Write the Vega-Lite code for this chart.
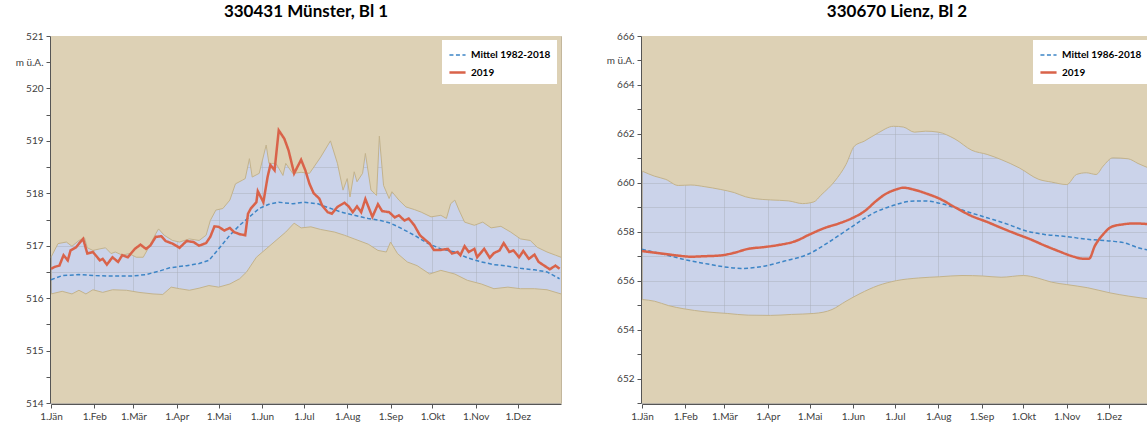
{
  "$schema": "https://vega.github.io/schema/vega-lite/v6.json",
  "padding": {"left": 4, "top": 2, "right": 0, "bottom": 0},
  "spacing": 29,
  "datasets": {
    "m_max": [
      {"tag":0,"wert":516.78},{"tag":5,"wert":517.04},{"tag":11,"wert":517.07},{"tag":15,"wert":516.99},{"tag":20,"wert":517.1},{"tag":24,"wert":517.15},{"tag":26,"wert":516.96},{"tag":30,"wert":516.91},{"tag":35,"wert":516.94},{"tag":39,"wert":516.96},{"tag":43,"wert":516.85},{"tag":46,"wert":516.88},{"tag":51,"wert":516.82},{"tag":56,"wert":516.85},{"tag":61,"wert":516.78},{"tag":66,"wert":516.78},{"tag":70,"wert":516.97},{"tag":75,"wert":517.23},{"tag":77,"wert":517.32},{"tag":81,"wert":517.2},{"tag":87,"wert":517.1},{"tag":92,"wert":517.07},{"tag":99,"wert":517.13},{"tag":106,"wert":517.1},{"tag":111,"wert":517.2},{"tag":114,"wert":517.48},{"tag":118,"wert":517.68},{"tag":123,"wert":517.71},{"tag":128,"wert":517.87},{"tag":132,"wert":518.18},{"tag":137,"wert":518.25},{"tag":139,"wert":518.28},{"tag":142,"wert":518.66},{"tag":144,"wert":518.31},{"tag":149,"wert":518.38},{"tag":154,"wert":518.92},{"tag":156,"wert":518.57},{"tag":161,"wert":518.57},{"tag":166,"wert":518.34},{"tag":168,"wert":518.57},{"tag":173,"wert":518.38},{"tag":179,"wert":518.4},{"tag":185,"wert":518.38},{"tag":193,"wert":518.69},{"tag":200,"wert":519.0},{"tag":205,"wert":518.57},{"tag":209,"wert":518.06},{"tag":212,"wert":518.28},{"tag":214,"wert":517.93},{"tag":217,"wert":518.41},{"tag":219,"wert":518.22},{"tag":223,"wert":518.38},{"tag":225,"wert":518.76},{"tag":229,"wert":518.06},{"tag":233,"wert":517.96},{"tag":235,"wert":519.09},{"tag":238,"wert":518.15},{"tag":242,"wert":517.9},{"tag":244,"wert":518.03},{"tag":249,"wert":517.87},{"tag":254,"wert":517.74},{"tag":260,"wert":517.69},{"tag":265,"wert":517.64},{"tag":272,"wert":517.55},{"tag":279,"wert":517.58},{"tag":283,"wert":517.52},{"tag":286,"wert":517.8},{"tag":289,"wert":517.87},{"tag":292,"wert":517.68},{"tag":296,"wert":517.45},{"tag":303,"wert":517.39},{"tag":309,"wert":517.45},{"tag":315,"wert":517.34},{"tag":322,"wert":517.37},{"tag":329,"wert":517.26},{"tag":336,"wert":517.13},{"tag":343,"wert":517.1},{"tag":348,"wert":516.97},{"tag":355,"wert":516.88},{"tag":361,"wert":516.82},{"tag":365,"wert":516.78}
    ],
    "m_min": [
      {"tag":0,"wert":516.08},{"tag":8,"wert":516.13},{"tag":15,"wert":516.08},{"tag":20,"wert":516.15},{"tag":25,"wert":516.08},{"tag":30,"wert":516.16},{"tag":37,"wert":516.11},{"tag":44,"wert":516.16},{"tag":54,"wert":516.15},{"tag":63,"wert":516.11},{"tag":73,"wert":516.08},{"tag":80,"wert":516.07},{"tag":86,"wert":516.21},{"tag":92,"wert":516.18},{"tag":99,"wert":516.15},{"tag":106,"wert":516.19},{"tag":113,"wert":516.24},{"tag":120,"wert":516.21},{"tag":128,"wert":516.27},{"tag":135,"wert":516.37},{"tag":140,"wert":516.5},{"tag":147,"wert":516.78},{"tag":154,"wert":516.94},{"tag":161,"wert":517.1},{"tag":168,"wert":517.26},{"tag":174,"wert":517.43},{"tag":179,"wert":517.34},{"tag":186,"wert":517.36},{"tag":193,"wert":517.31},{"tag":203,"wert":517.26},{"tag":210,"wert":517.2},{"tag":217,"wert":517.13},{"tag":227,"wert":517.03},{"tag":234,"wert":516.91},{"tag":240,"wert":516.88},{"tag":243,"wert":517.07},{"tag":248,"wert":516.85},{"tag":255,"wert":516.69},{"tag":262,"wert":516.62},{"tag":271,"wert":516.46},{"tag":279,"wert":516.53},{"tag":289,"wert":516.46},{"tag":298,"wert":516.34},{"tag":308,"wert":516.27},{"tag":317,"wert":516.18},{"tag":327,"wert":516.21},{"tag":336,"wert":516.18},{"tag":346,"wert":516.18},{"tag":355,"wert":516.16},{"tag":365,"wert":516.08}
    ],
    "m_lines": [
      {"serie":"Mittel 1982-2018","tag":0,"wert":516.35},{"serie":"Mittel 1982-2018","tag":8,"wert":516.43},{"serie":"Mittel 1982-2018","tag":20,"wert":516.45},{"serie":"Mittel 1982-2018","tag":32,"wert":516.43},{"serie":"Mittel 1982-2018","tag":44,"wert":516.42},{"serie":"Mittel 1982-2018","tag":58,"wert":516.42},{"serie":"Mittel 1982-2018","tag":68,"wert":516.45},{"serie":"Mittel 1982-2018","tag":78,"wert":516.52},{"serie":"Mittel 1982-2018","tag":85,"wert":516.58},{"serie":"Mittel 1982-2018","tag":97,"wert":516.62},{"serie":"Mittel 1982-2018","tag":106,"wert":516.66},{"serie":"Mittel 1982-2018","tag":113,"wert":516.72},{"serie":"Mittel 1982-2018","tag":120,"wert":516.94},{"serie":"Mittel 1982-2018","tag":128,"wert":517.2},{"serie":"Mittel 1982-2018","tag":135,"wert":517.39},{"serie":"Mittel 1982-2018","tag":142,"wert":517.55},{"serie":"Mittel 1982-2018","tag":149,"wert":517.71},{"serie":"Mittel 1982-2018","tag":156,"wert":517.79},{"serie":"Mittel 1982-2018","tag":163,"wert":517.83},{"serie":"Mittel 1982-2018","tag":173,"wert":517.8},{"serie":"Mittel 1982-2018","tag":181,"wert":517.83},{"serie":"Mittel 1982-2018","tag":191,"wert":517.8},{"serie":"Mittel 1982-2018","tag":198,"wert":517.73},{"serie":"Mittel 1982-2018","tag":208,"wert":517.64},{"serie":"Mittel 1982-2018","tag":217,"wert":517.58},{"serie":"Mittel 1982-2018","tag":227,"wert":517.52},{"serie":"Mittel 1982-2018","tag":236,"wert":517.48},{"serie":"Mittel 1982-2018","tag":243,"wert":517.43},{"serie":"Mittel 1982-2018","tag":250,"wert":517.34},{"serie":"Mittel 1982-2018","tag":260,"wert":517.2},{"serie":"Mittel 1982-2018","tag":270,"wert":517.04},{"serie":"Mittel 1982-2018","tag":279,"wert":516.94},{"serie":"Mittel 1982-2018","tag":289,"wert":516.88},{"serie":"Mittel 1982-2018","tag":298,"wert":516.77},{"serie":"Mittel 1982-2018","tag":308,"wert":516.69},{"serie":"Mittel 1982-2018","tag":317,"wert":516.64},{"serie":"Mittel 1982-2018","tag":327,"wert":516.61},{"serie":"Mittel 1982-2018","tag":336,"wert":516.57},{"serie":"Mittel 1982-2018","tag":346,"wert":516.54},{"serie":"Mittel 1982-2018","tag":355,"wert":516.5},{"serie":"Mittel 1982-2018","tag":364,"wert":516.37},
      {"serie":"2019","tag":0,"wert":516.56},{"serie":"2019","tag":3,"wert":516.6},{"serie":"2019","tag":6,"wert":516.62},{"serie":"2019","tag":9,"wert":516.82},{"serie":"2019","tag":12,"wert":516.72},{"serie":"2019","tag":14,"wert":516.91},{"serie":"2019","tag":18,"wert":516.97},{"serie":"2019","tag":20,"wert":517.04},{"serie":"2019","tag":23,"wert":517.13},{"serie":"2019","tag":26,"wert":516.85},{"serie":"2019","tag":30,"wert":516.88},{"serie":"2019","tag":35,"wert":516.72},{"serie":"2019","tag":37,"wert":516.75},{"serie":"2019","tag":40,"wert":516.64},{"serie":"2019","tag":44,"wert":516.78},{"serie":"2019","tag":48,"wert":516.69},{"serie":"2019","tag":51,"wert":516.82},{"serie":"2019","tag":55,"wert":516.78},{"serie":"2019","tag":60,"wert":516.94},{"serie":"2019","tag":64,"wert":517.02},{"serie":"2019","tag":68,"wert":516.94},{"serie":"2019","tag":71,"wert":517.0},{"serie":"2019","tag":75,"wert":517.17},{"serie":"2019","tag":79,"wert":517.18},{"serie":"2019","tag":82,"wert":517.09},{"serie":"2019","tag":87,"wert":517.04},{"serie":"2019","tag":92,"wert":516.96},{"serie":"2019","tag":97,"wert":517.09},{"serie":"2019","tag":102,"wert":517.07},{"serie":"2019","tag":106,"wert":517.0},{"serie":"2019","tag":111,"wert":517.05},{"serie":"2019","tag":114,"wert":517.17},{"serie":"2019","tag":117,"wert":517.37},{"serie":"2019","tag":120,"wert":517.36},{"serie":"2019","tag":124,"wert":517.29},{"serie":"2019","tag":128,"wert":517.34},{"serie":"2019","tag":131,"wert":517.26},{"serie":"2019","tag":135,"wert":517.22},{"serie":"2019","tag":139,"wert":517.2},{"serie":"2019","tag":141,"wert":517.61},{"serie":"2019","tag":143,"wert":517.71},{"serie":"2019","tag":147,"wert":517.83},{"serie":"2019","tag":148,"wert":518.04},{"serie":"2019","tag":152,"wert":517.83},{"serie":"2019","tag":155,"wert":518.31},{"serie":"2019","tag":157,"wert":518.54},{"serie":"2019","tag":160,"wert":518.44},{"serie":"2019","tag":163,"wert":519.2},{"serie":"2019","tag":167,"wert":519.04},{"serie":"2019","tag":170,"wert":518.82},{"serie":"2019","tag":174,"wert":518.38},{"serie":"2019","tag":179,"wert":518.64},{"serie":"2019","tag":182,"wert":518.44},{"serie":"2019","tag":185,"wert":518.18},{"serie":"2019","tag":188,"wert":518.0},{"serie":"2019","tag":192,"wert":517.9},{"serie":"2019","tag":194,"wert":517.77},{"serie":"2019","tag":198,"wert":517.64},{"serie":"2019","tag":201,"wert":517.61},{"serie":"2019","tag":205,"wert":517.74},{"serie":"2019","tag":210,"wert":517.82},{"serie":"2019","tag":213,"wert":517.75},{"serie":"2019","tag":216,"wert":517.64},{"serie":"2019","tag":219,"wert":517.75},{"serie":"2019","tag":222,"wert":517.64},{"serie":"2019","tag":225,"wert":517.89},{"serie":"2019","tag":230,"wert":517.55},{"serie":"2019","tag":234,"wert":517.79},{"serie":"2019","tag":237,"wert":517.66},{"serie":"2019","tag":242,"wert":517.64},{"serie":"2019","tag":246,"wert":517.54},{"serie":"2019","tag":249,"wert":517.58},{"serie":"2019","tag":253,"wert":517.48},{"serie":"2019","tag":256,"wert":517.52},{"serie":"2019","tag":260,"wert":517.39},{"serie":"2019","tag":264,"wert":517.2},{"serie":"2019","tag":267,"wert":517.13},{"serie":"2019","tag":271,"wert":517.04},{"serie":"2019","tag":274,"wert":516.92},{"serie":"2019","tag":279,"wert":516.92},{"serie":"2019","tag":284,"wert":516.94},{"serie":"2019","tag":287,"wert":516.85},{"serie":"2019","tag":291,"wert":516.88},{"serie":"2019","tag":293,"wert":516.82},{"serie":"2019","tag":296,"wert":516.99},{"serie":"2019","tag":299,"wert":516.88},{"serie":"2019","tag":303,"wert":516.94},{"serie":"2019","tag":305,"wert":516.78},{"serie":"2019","tag":310,"wert":516.94},{"serie":"2019","tag":314,"wert":516.77},{"serie":"2019","tag":317,"wert":516.86},{"serie":"2019","tag":321,"wert":516.91},{"serie":"2019","tag":324,"wert":517.05},{"serie":"2019","tag":328,"wert":516.88},{"serie":"2019","tag":331,"wert":516.91},{"serie":"2019","tag":335,"wert":516.78},{"serie":"2019","tag":338,"wert":516.9},{"serie":"2019","tag":342,"wert":516.75},{"serie":"2019","tag":346,"wert":516.83},{"serie":"2019","tag":349,"wert":516.69},{"serie":"2019","tag":353,"wert":516.62},{"serie":"2019","tag":357,"wert":516.55},{"serie":"2019","tag":361,"wert":516.62},{"serie":"2019","tag":364,"wert":516.56}
    ],
    "l_max": [
      {"tag":0,"wert":660.48},{"tag":9,"wert":660.27},{"tag":17,"wert":660.14},{"tag":26,"wert":659.89},{"tag":35,"wert":659.91},{"tag":45,"wert":659.84},{"tag":56,"wert":659.73},{"tag":66,"wert":659.6},{"tag":74,"wert":659.43},{"tag":81,"wert":659.35},{"tag":92,"wert":659.3},{"tag":105,"wert":659.26},{"tag":115,"wert":659.15},{"tag":123,"wert":659.22},{"tag":128,"wert":659.49},{"tag":138,"wert":660.07},{"tag":146,"wert":660.75},{"tag":152,"wert":661.5},{"tag":159,"wert":661.7},{"tag":169,"wert":662.04},{"tag":180,"wert":662.31},{"tag":187,"wert":662.28},{"tag":195,"wert":662.07},{"tag":203,"wert":662.11},{"tag":212,"wert":662.07},{"tag":224,"wert":661.79},{"tag":236,"wert":661.33},{"tag":247,"wert":661.16},{"tag":257,"wert":660.95},{"tag":270,"wert":660.61},{"tag":284,"wert":660.14},{"tag":293,"wert":660.03},{"tag":304,"wert":659.93},{"tag":311,"wert":660.34},{"tag":318,"wert":660.41},{"tag":325,"wert":660.34},{"tag":330,"wert":660.68},{"tag":337,"wert":661.02},{"tag":348,"wert":660.98},{"tag":355,"wert":660.79},{"tag":365,"wert":660.55}
    ],
    "l_min": [
      {"tag":0,"wert":655.23},{"tag":9,"wert":655.16},{"tag":19,"wert":654.98},{"tag":30,"wert":654.85},{"tag":45,"wert":654.73},{"tag":61,"wert":654.66},{"tag":76,"wert":654.59},{"tag":92,"wert":654.58},{"tag":107,"wert":654.62},{"tag":123,"wert":654.66},{"tag":136,"wert":654.82},{"tag":146,"wert":655.16},{"tag":156,"wert":655.47},{"tag":169,"wert":655.8},{"tag":182,"wert":656.0},{"tag":198,"wert":656.11},{"tag":213,"wert":656.16},{"tag":229,"wert":656.21},{"tag":244,"wert":656.19},{"tag":257,"wert":656.14},{"tag":273,"wert":656.21},{"tag":283,"wert":656.11},{"tag":293,"wert":655.94},{"tag":304,"wert":655.84},{"tag":319,"wert":655.71},{"tag":335,"wert":655.5},{"tag":348,"wert":655.37},{"tag":365,"wert":655.24}
    ],
    "l_lines": [
      {"serie":"Mittel 1986-2018","tag":0,"wert":657.28},{"serie":"Mittel 1986-2018","tag":14,"wert":657.1},{"serie":"Mittel 1986-2018","tag":30,"wert":656.87},{"serie":"Mittel 1986-2018","tag":45,"wert":656.7},{"serie":"Mittel 1986-2018","tag":61,"wert":656.55},{"serie":"Mittel 1986-2018","tag":71,"wert":656.5},{"serie":"Mittel 1986-2018","tag":87,"wert":656.59},{"serie":"Mittel 1986-2018","tag":102,"wert":656.8},{"serie":"Mittel 1986-2018","tag":120,"wert":657.11},{"serie":"Mittel 1986-2018","tag":133,"wert":657.55},{"serie":"Mittel 1986-2018","tag":149,"wert":658.16},{"serie":"Mittel 1986-2018","tag":164,"wert":658.71},{"serie":"Mittel 1986-2018","tag":180,"wert":659.08},{"serie":"Mittel 1986-2018","tag":195,"wert":659.26},{"serie":"Mittel 1986-2018","tag":203,"wert":659.26},{"serie":"Mittel 1986-2018","tag":216,"wert":659.12},{"serie":"Mittel 1986-2018","tag":231,"wert":658.85},{"serie":"Mittel 1986-2018","tag":247,"wert":658.57},{"serie":"Mittel 1986-2018","tag":262,"wert":658.3},{"serie":"Mittel 1986-2018","tag":275,"wert":658.03},{"serie":"Mittel 1986-2018","tag":288,"wert":657.89},{"serie":"Mittel 1986-2018","tag":304,"wert":657.8},{"serie":"Mittel 1986-2018","tag":319,"wert":657.69},{"serie":"Mittel 1986-2018","tag":335,"wert":657.62},{"serie":"Mittel 1986-2018","tag":345,"wert":657.55},{"serie":"Mittel 1986-2018","tag":355,"wert":657.35},{"serie":"Mittel 1986-2018","tag":364,"wert":657.23},
      {"serie":"2019","tag":0,"wert":657.21},{"serie":"2019","tag":14,"wert":657.11},{"serie":"2019","tag":25,"wert":657.03},{"serie":"2019","tag":35,"wert":656.98},{"serie":"2019","tag":45,"wert":657.0},{"serie":"2019","tag":56,"wert":657.03},{"serie":"2019","tag":66,"wert":657.14},{"serie":"2019","tag":76,"wert":657.3},{"serie":"2019","tag":87,"wert":657.37},{"serie":"2019","tag":97,"wert":657.45},{"serie":"2019","tag":110,"wert":657.62},{"serie":"2019","tag":120,"wert":657.89},{"serie":"2019","tag":131,"wert":658.16},{"serie":"2019","tag":141,"wert":658.34},{"serie":"2019","tag":151,"wert":658.57},{"serie":"2019","tag":160,"wert":658.87},{"serie":"2019","tag":167,"wert":659.23},{"serie":"2019","tag":174,"wert":659.53},{"serie":"2019","tag":182,"wert":659.73},{"serie":"2019","tag":187,"wert":659.8},{"serie":"2019","tag":194,"wert":659.73},{"serie":"2019","tag":203,"wert":659.57},{"serie":"2019","tag":213,"wert":659.35},{"serie":"2019","tag":224,"wert":659.0},{"serie":"2019","tag":236,"wert":658.64},{"serie":"2019","tag":247,"wert":658.4},{"serie":"2019","tag":257,"wert":658.16},{"serie":"2019","tag":267,"wert":657.93},{"serie":"2019","tag":278,"wert":657.69},{"serie":"2019","tag":288,"wert":657.44},{"serie":"2019","tag":298,"wert":657.21},{"serie":"2019","tag":309,"wert":656.98},{"serie":"2019","tag":315,"wert":656.9},{"serie":"2019","tag":320,"wert":656.9},{"serie":"2019","tag":324,"wert":657.41},{"serie":"2019","tag":330,"wert":657.89},{"serie":"2019","tag":336,"wert":658.2},{"serie":"2019","tag":344,"wert":658.3},{"serie":"2019","tag":353,"wert":658.34},{"serie":"2019","tag":364,"wert":658.3}
    ]
  },
  "hconcat": [
    {
      "width": 510,
      "height": 367,
      "title": {"text": "330431 Münster, Bl 1"},
      "encoding": {
        "x": {"field": "tag", "type": "quantitative", "scale": {"domain": [0, 365], "nice": false, "zero": false},
          "axis": {"title": null, "values": [0,31,59,90,120,151,181,212,243,273,304,334], "labelExpr": "['1.Jän','1.Feb','1.Mär','1.Apr','1.Mai','1.Jun','1.Jul','1.Aug','1.Sep','1.Okt','1.Nov','1.Dez'][indexof([0,31,59,90,120,151,181,212,243,273,304,334], datum.value)]"}},
        "y": {"field": "wert", "type": "quantitative", "scale": {"domain": [514, 521], "nice": false, "zero": false},
          "axis": {"title": null, "values": [514,514.5,515,515.5,516,516.5,517,517.5,518,518.5,519,519.5,520,520.5,521], "labelExpr": "datum.value == 520.5 ? 'm ü.A.' : (datum.value % 1 == 0 ? format(datum.value, 'd') : '')"}}
      },
      "layer": [
        {"data": {"name": "m_max"}, "mark": {"type": "area", "color": "#ddd1b5"}, "encoding": {"y2": {"datum": 521}}},
        {"data": {"name": "m_min"}, "mark": {"type": "area", "color": "#ddd1b5"}, "encoding": {"y2": {"datum": 514}}},
        {"data": {"name": "m_max"}, "mark": {"type": "line", "color": "#c3b38c", "strokeWidth": 1}, "encoding": {}},
        {"data": {"name": "m_min"}, "mark": {"type": "line", "color": "#c3b38c", "strokeWidth": 1}, "encoding": {}},
        {"data": {"name": "m_lines"}, "mark": {"type": "line"},
          "encoding": {
            "color": {"field": "serie", "type": "nominal", "title": null, "scale": {"domain": ["Mittel 1982-2018", "2019"], "range": ["#3d85c6", "#d9634a"]}},
            "strokeDash": {"field": "serie", "type": "nominal", "title": null, "scale": {"domain": ["Mittel 1982-2018", "2019"], "range": [[4, 2.5], [1, 0]]}},
            "strokeWidth": {"field": "serie", "type": "nominal", "title": null, "scale": {"domain": ["Mittel 1982-2018", "2019"], "range": [1.5, 2.5]}}
          }}
      ]
    },
    {
      "width": 510,
      "height": 367,
      "title": {"text": "330670 Lienz, Bl 2"},
      "encoding": {
        "x": {"field": "tag", "type": "quantitative", "scale": {"domain": [0, 365], "nice": false, "zero": false},
          "axis": {"title": null, "values": [0,31,59,90,120,151,181,212,243,273,304,334], "labelExpr": "['1.Jän','1.Feb','1.Mär','1.Apr','1.Mai','1.Jun','1.Jul','1.Aug','1.Sep','1.Okt','1.Nov','1.Dez'][indexof([0,31,59,90,120,151,181,212,243,273,304,334], datum.value)]"}},
        "y": {"field": "wert", "type": "quantitative", "scale": {"domain": [651, 666], "nice": false, "zero": false},
          "axis": {"title": null, "values": [651,652,653,654,655,656,657,658,659,660,661,662,663,664,665,666], "labelExpr": "datum.value == 665 ? 'm ü.A.' : (datum.value % 2 == 0 ? format(datum.value, 'd') : '')"}}
      },
      "layer": [
        {"data": {"name": "l_max"}, "mark": {"type": "area", "color": "#ddd1b5", "interpolate": "monotone"}, "encoding": {"y2": {"datum": 666}}},
        {"data": {"name": "l_min"}, "mark": {"type": "area", "color": "#ddd1b5", "interpolate": "monotone"}, "encoding": {"y2": {"datum": 651}}},
        {"data": {"name": "l_max"}, "mark": {"type": "line", "color": "#c3b38c", "strokeWidth": 1, "interpolate": "monotone"}, "encoding": {}},
        {"data": {"name": "l_min"}, "mark": {"type": "line", "color": "#c3b38c", "strokeWidth": 1, "interpolate": "monotone"}, "encoding": {}},
        {"data": {"name": "l_lines"}, "mark": {"type": "line", "interpolate": "monotone"},
          "encoding": {
            "color": {"field": "serie", "type": "nominal", "title": null, "scale": {"domain": ["Mittel 1986-2018", "2019"], "range": ["#3d85c6", "#d9634a"]}},
            "strokeDash": {"field": "serie", "type": "nominal", "title": null, "scale": {"domain": ["Mittel 1986-2018", "2019"], "range": [[4, 2.5], [1, 0]]}},
            "strokeWidth": {"field": "serie", "type": "nominal", "title": null, "scale": {"domain": ["Mittel 1986-2018", "2019"], "range": [1.5, 2.5]}}
          }}
      ]
    }
  ],
  "resolve": {
    "scale": {"x": "independent", "y": "independent", "color": "independent", "strokeDash": "independent", "strokeWidth": "independent"},
    "legend": {"color": "independent", "strokeDash": "independent", "strokeWidth": "independent"}
  },
  "config": {
    "view": {"fill": "#cbd3ea", "stroke": "#c3b79c", "strokeWidth": 1},
    "title": {"font": "Lato", "fontSize": 17, "fontWeight": "bold", "color": "#000000", "offset": 10, "anchor": "middle"},
    "axis": {"labelFont": "Lato", "labelFontSize": 10, "labelColor": "#404040", "domainColor": "#555555", "tickColor": "#555555", "tickSize": 4, "labelPadding": 3, "gridColor": "#a9acb8", "gridOpacity": 0.45, "labelOverlap": false, "labelFlush": false, "offset": 1},
    "axisY": {"minExtent": 45, "maxExtent": 45},
    "legend": {"orient": "top-right", "offset": 4, "fillColor": "#ffffff", "padding": 6, "symbolType": "stroke", "symbolSize": 260, "labelFont": "Lato", "labelFontSize": 10, "labelFontWeight": "bold", "labelColor": "#000000", "rowPadding": 3, "labelOffset": 4}
  }
}
